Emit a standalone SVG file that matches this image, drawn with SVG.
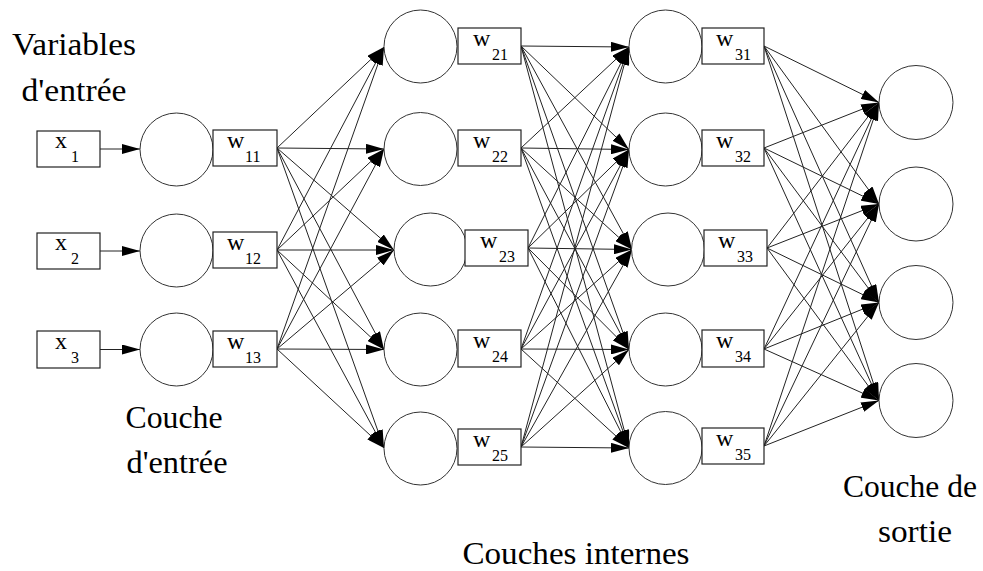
<svg xmlns="http://www.w3.org/2000/svg" width="983" height="571" viewBox="0 0 983 571">
<style>
.n{fill:#fff;stroke:#333;stroke-width:1}
.b{fill:#fff;stroke:#222;stroke-width:1.2}
.e line{stroke:#222;stroke-width:1;marker-end:url(#ah)}
.t{font-family:"Liberation Serif","DejaVu Serif","Noto Serif","Times New Roman",serif;fill:#000}
.w{font-size:24px}
.s{font-size:16px}
.l{font-size:32px;text-anchor:middle}
</style>
<defs>
<marker id="ah" markerWidth="18" markerHeight="10" refX="18" refY="5" orient="auto" markerUnits="userSpaceOnUse"><path d="M0,0 L18,5 L0,10 z" fill="#000"/></marker>
</defs>
<rect width="983" height="571" fill="#fff"/>
<g id="labels" class="t">
<text class="l" x="74" y="55" textLength="124" lengthAdjust="spacingAndGlyphs">Variables</text>
<text class="l" x="74" y="101" textLength="105" lengthAdjust="spacingAndGlyphs">d'entrée</text>
<text class="l" x="174" y="428" textLength="97" lengthAdjust="spacingAndGlyphs">Couche</text>
<text class="l" x="177" y="473" textLength="101" lengthAdjust="spacingAndGlyphs">d'entrée</text>
<text class="l" x="910" y="497" textLength="134" lengthAdjust="spacingAndGlyphs">Couche de</text>
<text class="l" x="915" y="542" textLength="74" lengthAdjust="spacingAndGlyphs">sortie</text>
<text class="l" x="576" y="564" textLength="227" lengthAdjust="spacingAndGlyphs">Couches internes</text>
</g>
<g id="connectors" class="e">
<line x1="100" y1="149" x2="140" y2="149"/>
<line x1="100" y1="251" x2="140" y2="251"/>
<line x1="100" y1="349.5" x2="140" y2="349.5"/>
<line x1="277" y1="148" x2="384" y2="47"/>
<line x1="277" y1="148" x2="384" y2="149"/>
<line x1="277" y1="148" x2="394" y2="250"/>
<line x1="277" y1="148" x2="384" y2="349.5"/>
<line x1="277" y1="148" x2="384" y2="448"/>
<line x1="277" y1="250" x2="384" y2="47"/>
<line x1="277" y1="250" x2="384" y2="149"/>
<line x1="277" y1="250" x2="394" y2="250"/>
<line x1="277" y1="250" x2="384" y2="349.5"/>
<line x1="277" y1="250" x2="384" y2="448"/>
<line x1="277" y1="349" x2="384" y2="47"/>
<line x1="277" y1="349" x2="384" y2="149"/>
<line x1="277" y1="349" x2="394" y2="250"/>
<line x1="277" y1="349" x2="384" y2="349.5"/>
<line x1="277" y1="349" x2="384" y2="448"/>
<line x1="521" y1="46" x2="629" y2="47"/>
<line x1="521" y1="46" x2="629" y2="149.5"/>
<line x1="521" y1="46" x2="632" y2="249.5"/>
<line x1="521" y1="46" x2="629" y2="349.5"/>
<line x1="521" y1="46" x2="629" y2="448"/>
<line x1="521" y1="148" x2="629" y2="47"/>
<line x1="521" y1="148" x2="629" y2="149.5"/>
<line x1="521" y1="148" x2="632" y2="249.5"/>
<line x1="521" y1="148" x2="629" y2="349.5"/>
<line x1="521" y1="148" x2="629" y2="448"/>
<line x1="528" y1="248" x2="629" y2="47"/>
<line x1="528" y1="248" x2="629" y2="149.5"/>
<line x1="528" y1="248" x2="632" y2="249.5"/>
<line x1="528" y1="248" x2="629" y2="349.5"/>
<line x1="528" y1="248" x2="629" y2="448"/>
<line x1="521" y1="349" x2="629" y2="47"/>
<line x1="521" y1="349" x2="629" y2="149.5"/>
<line x1="521" y1="349" x2="632" y2="249.5"/>
<line x1="521" y1="349" x2="629" y2="349.5"/>
<line x1="521" y1="349" x2="629" y2="448"/>
<line x1="521" y1="447" x2="629" y2="47"/>
<line x1="521" y1="447" x2="629" y2="149.5"/>
<line x1="521" y1="447" x2="632" y2="249.5"/>
<line x1="521" y1="447" x2="629" y2="349.5"/>
<line x1="521" y1="447" x2="629" y2="448"/>
<line x1="764" y1="46" x2="879" y2="102.5"/>
<line x1="764" y1="46" x2="879" y2="204"/>
<line x1="764" y1="46" x2="879" y2="302.5"/>
<line x1="764" y1="46" x2="879" y2="400.5"/>
<line x1="764" y1="148" x2="879" y2="102.5"/>
<line x1="764" y1="148" x2="879" y2="204"/>
<line x1="764" y1="148" x2="879" y2="302.5"/>
<line x1="764" y1="148" x2="879" y2="400.5"/>
<line x1="767" y1="248" x2="879" y2="102.5"/>
<line x1="767" y1="248" x2="879" y2="204"/>
<line x1="767" y1="248" x2="879" y2="302.5"/>
<line x1="767" y1="248" x2="879" y2="400.5"/>
<line x1="764" y1="349" x2="879" y2="102.5"/>
<line x1="764" y1="349" x2="879" y2="204"/>
<line x1="764" y1="349" x2="879" y2="302.5"/>
<line x1="764" y1="349" x2="879" y2="400.5"/>
<line x1="764" y1="446" x2="879" y2="102.5"/>
<line x1="764" y1="446" x2="879" y2="204"/>
<line x1="764" y1="446" x2="879" y2="302.5"/>
<line x1="764" y1="446" x2="879" y2="400.5"/>
</g>
<g id="x1" class="t"><rect class="b" x="37" y="131" width="63" height="36"/><text class="w" x="55" y="148">x</text><text class="s" x="71" y="162">1</text></g>
<g id="x2" class="t"><rect class="b" x="37" y="233" width="63" height="36"/><text class="w" x="55" y="250">x</text><text class="s" x="71" y="264">2</text></g>
<g id="x3" class="t"><rect class="b" x="37" y="331" width="63" height="37"/><text class="w" x="55" y="349">x</text><text class="s" x="71" y="363">3</text></g>
<g id="n11"><circle class="n" cx="176.5" cy="149.5" r="36.5"/></g>
<g id="n12"><circle class="n" cx="176.5" cy="250.5" r="36.5"/></g>
<g id="n13"><circle class="n" cx="176.5" cy="349.5" r="36.5"/></g>
<g id="w11" class="t"><rect class="b" x="213" y="130" width="64" height="36"/><text class="w" x="227" y="148">w</text><text class="s" x="245" y="162">11</text></g>
<g id="w12" class="t"><rect class="b" x="213" y="232" width="64" height="36"/><text class="w" x="227" y="250">w</text><text class="s" x="245" y="264">12</text></g>
<g id="w13" class="t"><rect class="b" x="213" y="331" width="64" height="36"/><text class="w" x="227" y="349">w</text><text class="s" x="245" y="363">13</text></g>
<g id="n21"><circle class="n" cx="420.5" cy="46.5" r="36.5"/></g>
<g id="n22"><circle class="n" cx="420.5" cy="149" r="36.5"/></g>
<g id="n23"><circle class="n" cx="430.5" cy="249.5" r="36.5"/></g>
<g id="n24"><circle class="n" cx="420.5" cy="349.5" r="36.5"/></g>
<g id="n25"><circle class="n" cx="420.5" cy="448.5" r="36.5"/></g>
<g id="w21" class="t"><rect class="b" x="458" y="28" width="63" height="36"/><text class="w" x="473" y="46">w</text><text class="s" x="492" y="60">21</text></g>
<g id="w22" class="t"><rect class="b" x="458" y="130" width="63" height="36"/><text class="w" x="473" y="148">w</text><text class="s" x="492" y="162">22</text></g>
<g id="w23" class="t"><rect class="b" x="465" y="230" width="63" height="36"/><text class="w" x="480" y="248">w</text><text class="s" x="499" y="262">23</text></g>
<g id="w24" class="t"><rect class="b" x="458" y="330" width="63" height="37"/><text class="w" x="473" y="348">w</text><text class="s" x="492" y="362">24</text></g>
<g id="w25" class="t"><rect class="b" x="458" y="429" width="63" height="36"/><text class="w" x="473" y="447">w</text><text class="s" x="492" y="461">25</text></g>
<g id="n31"><circle class="n" cx="665.5" cy="46.5" r="36.5"/></g>
<g id="n32"><circle class="n" cx="665.5" cy="149.5" r="36.5"/></g>
<g id="n33"><circle class="n" cx="668" cy="249.5" r="36.5"/></g>
<g id="n34"><circle class="n" cx="665.5" cy="349.5" r="36.5"/></g>
<g id="n35"><circle class="n" cx="665.5" cy="448" r="36.5"/></g>
<g id="w31" class="t"><rect class="b" x="702" y="28" width="62" height="36"/><text class="w" x="716" y="46">w</text><text class="s" x="735" y="60">31</text></g>
<g id="w32" class="t"><rect class="b" x="702" y="130" width="62" height="36"/><text class="w" x="716" y="148">w</text><text class="s" x="735" y="162">32</text></g>
<g id="w33" class="t"><rect class="b" x="704" y="230" width="63" height="36"/><text class="w" x="718" y="248">w</text><text class="s" x="737" y="262">33</text></g>
<g id="w34" class="t"><rect class="b" x="702" y="330" width="62" height="37"/><text class="w" x="716" y="348">w</text><text class="s" x="735" y="362">34</text></g>
<g id="w35" class="t"><rect class="b" x="702" y="428" width="62" height="36"/><text class="w" x="716" y="446">w</text><text class="s" x="735" y="460">35</text></g>
<g id="o1"><circle class="n" cx="916" cy="102.5" r="37"/></g>
<g id="o2"><circle class="n" cx="916" cy="204" r="37"/></g>
<g id="o3"><circle class="n" cx="916" cy="302.5" r="37"/></g>
<g id="o4"><circle class="n" cx="916" cy="400.5" r="37"/></g>
</svg>
